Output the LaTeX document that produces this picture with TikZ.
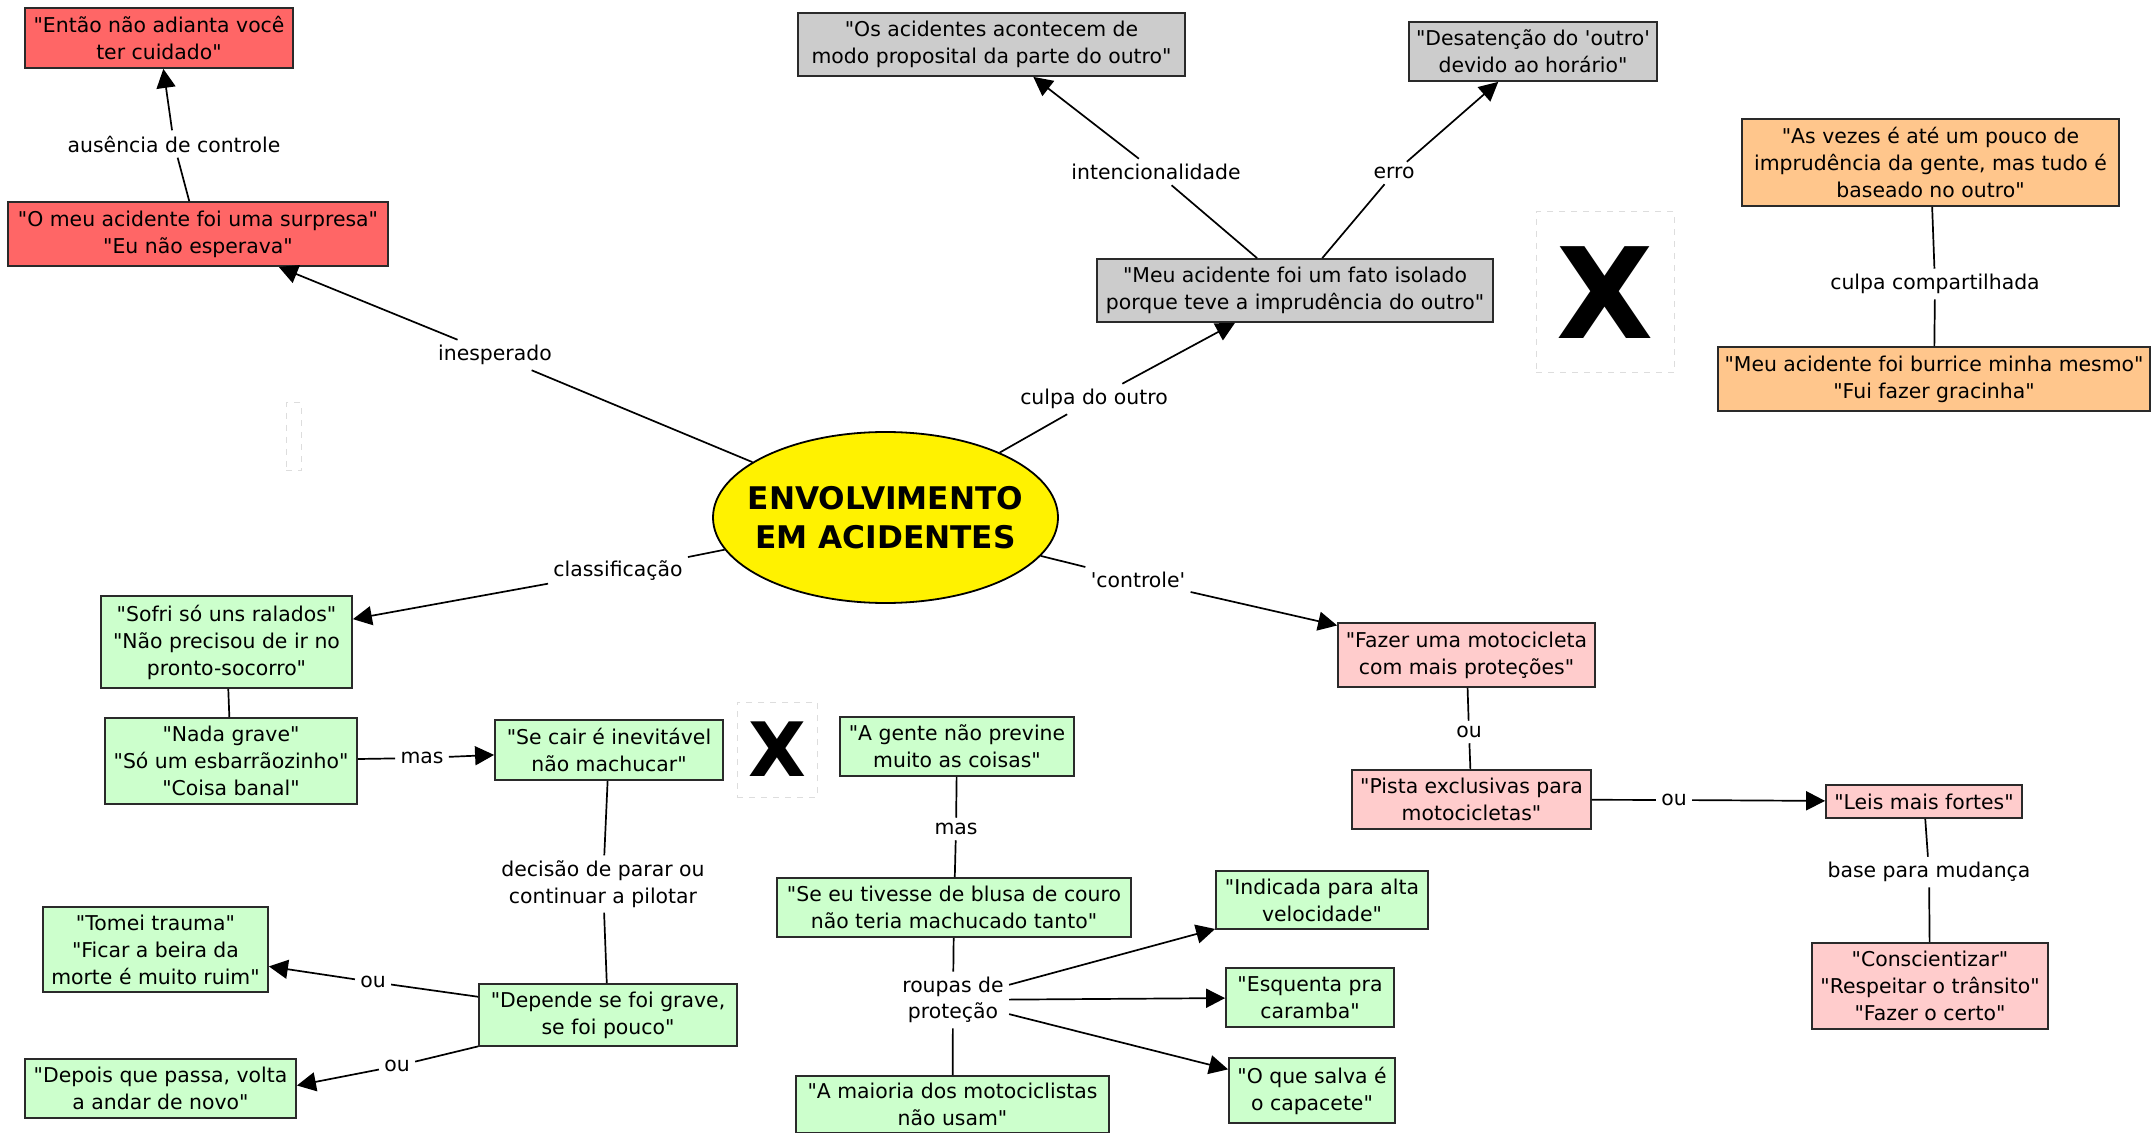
\documentclass[tikz,border=0pt]{standalone}
\usepackage{fontspec}
\setmainfont{DejaVu Sans}[Ligatures=TeXOff]
\usetikzlibrary{shapes.geometric,arrows.meta,calc}
\definecolor{cred}{HTML}{FF6666}
\definecolor{cgray}{HTML}{CCCCCC}
\definecolor{corange}{HTML}{FFC68C}
\definecolor{cgreen}{HTML}{CCFFCC}
\definecolor{cpink}{HTML}{FFCCCC}
\definecolor{cborder}{HTML}{2A2A2A}
\definecolor{cfaint}{HTML}{DDDDDD}
\begin{document}
\begin{tikzpicture}[x=0.5pt,y=-0.5pt,
  box/.style={draw=cborder, line width=0.9pt, align=center, inner sep=0pt,
    font=\fontsize{10.2}{13.5}\selectfont},
  lbl/.style={align=center, inner sep=2.5pt, font=\fontsize{10.2}{13.2}\selectfont},
  conn/.style={line width=0.85pt, draw=black},
  arr/.style={conn, -{Triangle[length=9.5pt,width=9.5pt]}},
  faintbox/.style={draw=cfaint, dashed, line width=0.5pt},
]
\useasboundingbox (0,0) rectangle (2152,1133);

% central ellipse
\node[ellipse, draw=black, line width=0.9pt, fill=yellow, inner sep=0pt,
  minimum width=172.5pt, minimum height=85.5pt] (c) at (885.5,517.5) {};
\node[align=center, inner sep=0pt, font=\fontsize{15.6}{19.5}\selectfont\bfseries] (ctext) at (c.center) {ENVOLVIMENTO\\EM ACIDENTES};

% red boxes
\node[box, fill=cred, minimum width=134pt, minimum height=30pt] (entao) at (159,38) {"Então não adianta você\\ter cuidado"};
\node[box, fill=cred, minimum width=190pt, minimum height=32pt] (surpresa) at (198,234) {"O meu acidente foi uma surpresa"\\"Eu não esperava"};

% gray boxes
\node[box, fill=cgray, minimum width=198pt, minimum height=31.5pt] (meu) at (1295,290.5) {"Meu acidente foi um fato isolado\\porque teve a imprudência do outro"};
\node[box, fill=cgray, minimum width=193.5pt, minimum height=31.5pt] (os) at (991.5,44.5) {"Os acidentes acontecem de\\modo proposital da parte do outro"};
\node[box, fill=cgray, minimum width=124pt, minimum height=29.5pt] (desat) at (1533,51.5) {"Desatenção do 'outro'\\devido ao horário"};

% orange boxes
\node[box, fill=corange, minimum width=188.5pt, minimum height=43.5pt] (asvezes) at (1930.5,162.5) {"As vezes é até um pouco de\\imprudência da gente, mas tudo é\\baseado no outro"};
\node[box, fill=corange, minimum width=216pt, minimum height=32pt] (burrice) at (1934,379) {"Meu acidente foi burrice minha mesmo"\\"Fui fazer gracinha"};

% green boxes
\node[box, fill=cgreen, minimum width=125.5pt, minimum height=46pt] (sofri) at (226.5,642) {"Sofri só uns ralados"\\"Não precisou de ir no\\pronto-socorro"};
\node[box, fill=cgreen, minimum width=126pt, minimum height=43pt] (nada) at (231,761) {"Nada grave"\\"Só um esbarrãozinho"\\"Coisa banal"};
\node[box, fill=cgreen, minimum width=114pt, minimum height=30pt] (secair) at (609,750) {"Se cair é inevitável\\não machucar"};
\node[box, fill=cgreen, minimum width=129pt, minimum height=31pt] (depende) at (608,1015) {"Depende se foi grave,\\se foi pouco"};
\node[box, fill=cgreen, minimum width=112.5pt, minimum height=42.5pt] (tomei) at (155.5,949.5) {"Tomei trauma"\\"Ficar a beira da\\morte é muito ruim"};
\node[box, fill=cgreen, minimum width=135.5pt, minimum height=29.5pt] (depois) at (160.5,1088.5) {"Depois que passa, volta\\a andar de novo"};
\node[box, fill=cgreen, minimum width=117pt, minimum height=29.5pt] (agente) at (957,746.5) {"A gente não previne\\muito as coisas"};
\node[box, fill=cgreen, minimum width=177pt, minimum height=29.5pt] (seeu) at (954,907.5) {"Se eu tivesse de blusa de couro\\não teria machucado tanto"};
\node[box, fill=cgreen, minimum width=156.5pt, minimum height=28.5pt] (maioria) at (952.5,1104.5) {"A maioria dos motociclistas\\não usam"};
\node[box, fill=cgreen, minimum width=106pt, minimum height=29pt] (indicada) at (1322,900) {"Indicada para alta\\velocidade"};
\node[box, fill=cgreen, minimum width=84pt, minimum height=29.5pt] (esquenta) at (1310,997.5) {"Esquenta pra\\caramba"};
\node[box, fill=cgreen, minimum width=83pt, minimum height=32.5pt] (salva) at (1312,1090.5) {"O que salva é\\o capacete"};

% pink boxes
\node[box, fill=cpink, minimum width=128.5pt, minimum height=32pt] (fazer) at (1466.5,655) {"Fazer uma motocicleta\\com mais proteções"};
\node[box, fill=cpink, minimum width=119.5pt, minimum height=29.5pt] (pista) at (1471.5,799.5) {"Pista exclusivas para\\motocicletas"};
\node[box, fill=cpink, minimum width=98pt, minimum height=16.5pt] (leis) at (1924,801.5) {"Leis mais fortes"};
\node[box, fill=cpink, minimum width=118pt, minimum height=43pt] (consc) at (1930,986) {"Conscientizar"\\"Respeitar o trânsito"\\"Fazer o certo"};

% X marks
\node[faintbox, minimum width=69pt, minimum height=80.5pt, inner sep=0pt] (xbox1) at (1605,292.5) {};
\node[font=\fontsize{63}{63}\selectfont\bfseries, inner sep=0pt] (x1) at (xbox1.center) {X};
\node[faintbox, minimum width=40pt, minimum height=47.5pt, inner sep=0pt] (xbox2) at (777,749.5) {};
\node[font=\fontsize{37.5}{37.5}\selectfont\bfseries, inner sep=0pt] (x2) at (xbox2.center) {X};
\node[faintbox, minimum width=7.5pt, minimum height=34pt, inner sep=0pt] (faint) at (293.5,437) {};

% labels
\node[lbl] (lAus) at (174,144) {ausência de controle};
\node[lbl] (lInesp) at (495,355) {inesperado};
\node[lbl] (lClass) at (618,571) {classificação};
\node[lbl] (lCulpa) at (1094,399) {culpa do outro};
\node[lbl] (lInt) at (1156,172) {intencionalidade};
\node[lbl] (lErro) at (1394,173) {erro};
\node[lbl] (lCC) at (1935,284) {culpa compartilhada};
\node[lbl] (lCtrl) at (1138,580) {'controle'};
\node[lbl] (lMas1) at (422,758) {mas};
\node[lbl] (lDec) at (603,884) {decisão de parar ou\\continuar a pilotar};
\node[lbl] (lOu1) at (373,982) {ou};
\node[lbl] (lOu2) at (397,1066) {ou};
\node[lbl] (lMas2) at (956,829) {mas};
\node[lbl] (lRoupas) at (953,1000) {roupas de\\proteção};
\node[lbl] (lOu3) at (1469,732) {ou};
\node[lbl] (lOu4) at (1674,800) {ou};
\node[lbl] (lBase) at (1929,872) {base para mudança};

% connectors
\draw[conn] (surpresa) -- (lAus);
\draw[arr] (lAus) -- (entao);
\draw[conn] (c) -- (lInesp);
\draw[arr] (lInesp) -- (surpresa);
\draw[conn] (c) -- (lClass);
\draw[arr] (lClass) -- (sofri);
\draw[conn] (c) -- (lCulpa);
\draw[arr] (lCulpa) -- (meu);
\draw[conn] (meu) -- (lInt);
\draw[arr] (lInt) -- (os);
\draw[conn] (meu) -- (lErro);
\draw[arr] (lErro) -- (desat);
\draw[conn] (asvezes) -- (lCC);
\draw[conn] (lCC) -- (burrice);
\draw[conn] (c) -- (lCtrl);
\draw[arr] (lCtrl) -- (fazer);
\draw[conn] (sofri) -- (nada);
\draw[conn] (nada) -- (lMas1);
\draw[arr] (lMas1) -- (secair);
\draw[conn] (secair) -- (lDec);
\draw[conn] (lDec) -- (depende);
\draw[conn] (depende) -- (lOu1);
\draw[arr] (lOu1) -- (tomei);
\draw[conn] (depende) -- (lOu2);
\draw[arr] (lOu2) -- ($(depois.east)+(0,-3)$);
\draw[conn] (agente) -- (lMas2);
\draw[conn] (lMas2) -- (seeu);
\draw[conn] (seeu) -- (lRoupas);
\draw[conn] (lRoupas) -- (maioria);
\draw[arr] (lRoupas) -- (indicada);
\draw[arr] (lRoupas) -- (esquenta);
\draw[arr] (lRoupas) -- (salva);
\draw[conn] (fazer) -- (lOu3);
\draw[conn] (lOu3) -- (pista);
\draw[conn] (pista) -- (lOu4);
\draw[arr] (lOu4) -- (leis);
\draw[conn] (leis) -- (lBase);
\draw[conn] (lBase) -- (consc);
\end{tikzpicture}
\end{document}
